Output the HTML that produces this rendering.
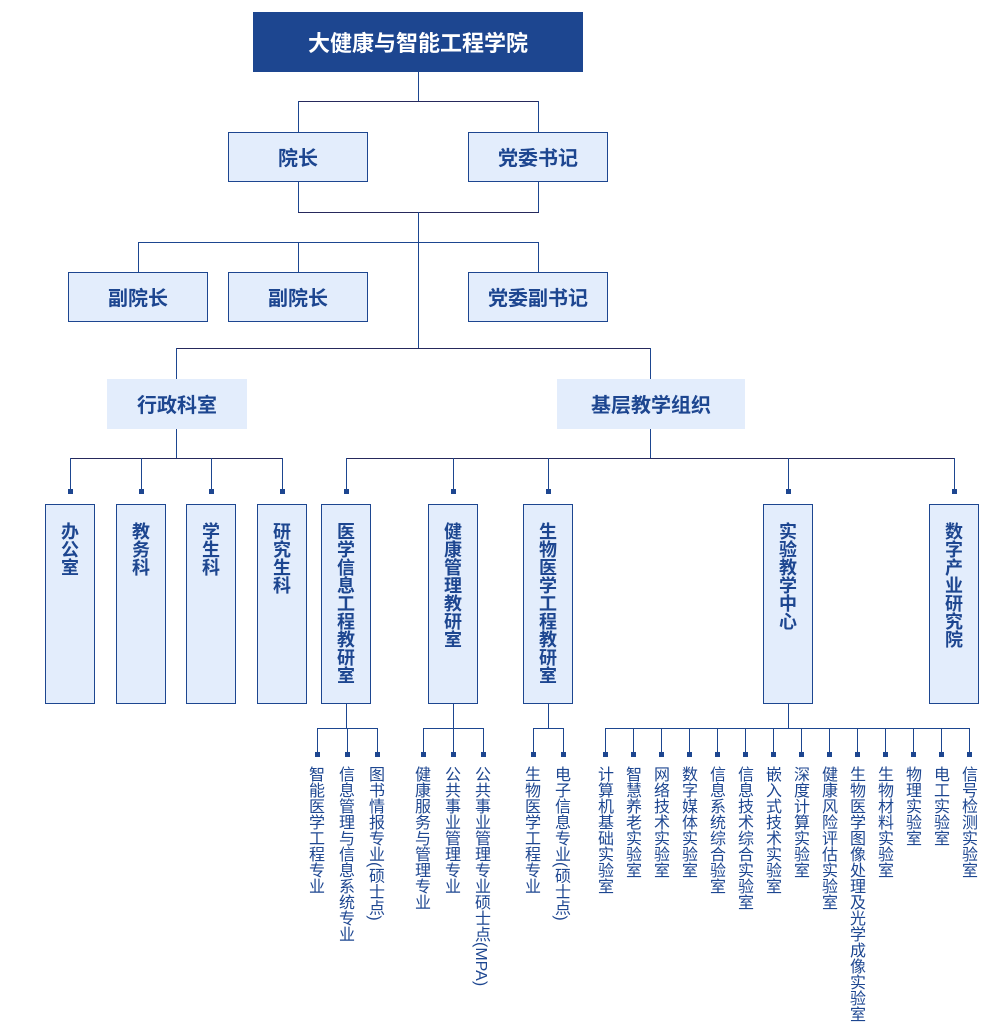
<!DOCTYPE html>
<html><head><meta charset="utf-8">
<style>
*{margin:0;padding:0;box-sizing:border-box}
html,body{width:1000px;height:1035px;background:#fff;overflow:hidden}
body{position:relative;font-family:"Liberation Sans","Noto Sans CJK SC",sans-serif}
.l{position:absolute;background:#1d4690}
.d{background:#26295c}
.sq{position:absolute;width:5px;height:5px;background:#1d4690}
.b{position:absolute;background:#e3edfc;border:1px solid #1d4690;color:#1d4690;font-weight:bold;font-size:20px;display:flex;align-items:center;justify-content:center;font-family:"Noto Sans CJK SC",sans-serif;line-height:1}
.nb{border:none}
.vb{position:absolute;background:#e3edfc;border:1px solid #1d4690;top:504px;height:200px;width:50px}
.vt{position:absolute;writing-mode:vertical-rl;text-orientation:mixed;font-family:"Noto Sans CJK SC",sans-serif;font-weight:bold;font-size:18px;line-height:18px;width:18px;color:#1d4690;top:522px}
.bt{position:absolute;writing-mode:vertical-rl;text-orientation:mixed;font-family:"Liberation Sans","Noto Sans CJK SC",sans-serif;font-size:16px;line-height:16px;width:16px;color:#1d4690;top:766px;white-space:nowrap;margin-left:-2px}
</style></head><body>

<!-- top -->
<div class="b" style="left:253px;top:12px;width:330px;height:60px;background:#1d4690;color:#fff;font-size:22px;border:none">大健康与智能工程学院</div>
<div class="l" style="left:418px;top:72px;width:1px;height:29px"></div>
<div class="l d" style="left:298px;top:101px;width:241px;height:1px"></div>
<div class="l" style="left:298px;top:101px;width:1px;height:31px"></div>
<div class="l" style="left:538px;top:101px;width:1px;height:31px"></div>

<div class="b" style="left:228px;top:132px;width:140px;height:50px">院长</div>
<div class="b" style="left:468px;top:132px;width:140px;height:50px">党委书记</div>

<div class="l" style="left:298px;top:181px;width:1px;height:31px"></div>
<div class="l" style="left:538px;top:181px;width:1px;height:31px"></div>
<div class="l d" style="left:298px;top:212px;width:241px;height:1px"></div>
<div class="l" style="left:418px;top:212px;width:1px;height:136px"></div>
<div class="l" style="left:138px;top:242px;width:401px;height:1px"></div>
<div class="l" style="left:138px;top:242px;width:1px;height:30px"></div>
<div class="l" style="left:298px;top:242px;width:1px;height:30px"></div>
<div class="l" style="left:538px;top:242px;width:1px;height:30px"></div>

<div class="b" style="left:68px;top:272px;width:140px;height:50px">副院长</div>
<div class="b" style="left:228px;top:272px;width:140px;height:50px">副院长</div>
<div class="b" style="left:468px;top:272px;width:140px;height:50px">党委副书记</div>

<div class="l d" style="left:176px;top:348px;width:475px;height:1px"></div>
<div class="l" style="left:176px;top:348px;width:1px;height:31px"></div>
<div class="l" style="left:650px;top:348px;width:1px;height:31px"></div>

<div class="b nb" style="left:107px;top:379px;width:140px;height:50px">行政科室</div>
<div class="b nb" style="left:557px;top:379px;width:188px;height:50px">基层教学组织</div>

<div class="l" style="left:176px;top:429px;width:1px;height:29px"></div>
<div class="l d" style="left:70px;top:458px;width:213px;height:1px"></div>
<div class="l" style="left:650px;top:429px;width:1px;height:29px"></div>
<div class="l d" style="left:346px;top:458px;width:609px;height:1px"></div>

<!-- ticks upper -->
<div class="l" style="left:70px;top:458px;width:1px;height:31px"></div><div class="sq" style="left:68px;top:489px"></div>
<div class="l" style="left:141px;top:458px;width:1px;height:31px"></div><div class="sq" style="left:139px;top:489px"></div>
<div class="l" style="left:211px;top:458px;width:1px;height:31px"></div><div class="sq" style="left:209px;top:489px"></div>
<div class="l" style="left:282px;top:458px;width:1px;height:31px"></div><div class="sq" style="left:280px;top:489px"></div>
<div class="l" style="left:346px;top:458px;width:1px;height:31px"></div><div class="sq" style="left:344px;top:489px"></div>
<div class="l" style="left:453px;top:458px;width:1px;height:31px"></div><div class="sq" style="left:451px;top:489px"></div>
<div class="l" style="left:548px;top:458px;width:1px;height:31px"></div><div class="sq" style="left:546px;top:489px"></div>
<div class="l" style="left:788px;top:458px;width:1px;height:31px"></div><div class="sq" style="left:786px;top:489px"></div>
<div class="l" style="left:954px;top:458px;width:1px;height:31px"></div><div class="sq" style="left:952px;top:489px"></div>

<!-- vertical boxes -->
<div class="vb" style="left:45px"></div><div class="vt" style="left:61px">办公室</div>
<div class="vb" style="left:116px"></div><div class="vt" style="left:132px">教务科</div>
<div class="vb" style="left:186px"></div><div class="vt" style="left:202px">学生科</div>
<div class="vb" style="left:257px"></div><div class="vt" style="left:273px">研究生科</div>
<div class="vb" style="left:321px"></div><div class="vt" style="left:337px">医学信息工程教研室</div>
<div class="vb" style="left:428px"></div><div class="vt" style="left:444px">健康管理教研室</div>
<div class="vb" style="left:523px"></div><div class="vt" style="left:539px">生物医学工程教研室</div>
<div class="vb" style="left:763px"></div><div class="vt" style="left:779px">实验教学中心</div>
<div class="vb" style="left:929px"></div><div class="vt" style="left:945px">数字产业研究院</div>

<!-- lower connectors -->
<div class="l" style="left:346px;top:703px;width:1px;height:25px"></div>
<div class="l" style="left:317px;top:728px;width:61px;height:1px"></div>
<div class="l" style="left:453px;top:703px;width:1px;height:25px"></div>
<div class="l" style="left:423px;top:728px;width:61px;height:1px"></div>
<div class="l" style="left:548px;top:703px;width:1px;height:25px"></div>
<div class="l" style="left:533px;top:728px;width:31px;height:1px"></div>
<div class="l" style="left:788px;top:703px;width:1px;height:25px"></div>
<div class="l" style="left:605px;top:728px;width:365px;height:1px"></div>

<div class="l" style="left:317px;top:728px;width:1px;height:24px"></div><div class="sq" style="left:315px;top:752px"></div>
<div class="l" style="left:347px;top:728px;width:1px;height:24px"></div><div class="sq" style="left:345px;top:752px"></div>
<div class="l" style="left:377px;top:728px;width:1px;height:24px"></div><div class="sq" style="left:375px;top:752px"></div>
<div class="l" style="left:423px;top:728px;width:1px;height:24px"></div><div class="sq" style="left:421px;top:752px"></div>
<div class="l" style="left:453px;top:728px;width:1px;height:24px"></div><div class="sq" style="left:451px;top:752px"></div>
<div class="l" style="left:483px;top:728px;width:1px;height:24px"></div><div class="sq" style="left:481px;top:752px"></div>
<div class="l" style="left:533px;top:728px;width:1px;height:24px"></div><div class="sq" style="left:531px;top:752px"></div>
<div class="l" style="left:563px;top:728px;width:1px;height:24px"></div><div class="sq" style="left:561px;top:752px"></div>

<div class="l" style="left:605px;top:728px;width:1px;height:24px"></div><div class="sq" style="left:603px;top:752px"></div>
<div class="l" style="left:633px;top:728px;width:1px;height:24px"></div><div class="sq" style="left:631px;top:752px"></div>
<div class="l" style="left:661px;top:728px;width:1px;height:24px"></div><div class="sq" style="left:659px;top:752px"></div>
<div class="l" style="left:689px;top:728px;width:1px;height:24px"></div><div class="sq" style="left:687px;top:752px"></div>
<div class="l" style="left:717px;top:728px;width:1px;height:24px"></div><div class="sq" style="left:715px;top:752px"></div>
<div class="l" style="left:745px;top:728px;width:1px;height:24px"></div><div class="sq" style="left:743px;top:752px"></div>
<div class="l" style="left:773px;top:728px;width:1px;height:24px"></div><div class="sq" style="left:771px;top:752px"></div>
<div class="l" style="left:801px;top:728px;width:1px;height:24px"></div><div class="sq" style="left:799px;top:752px"></div>
<div class="l" style="left:829px;top:728px;width:1px;height:24px"></div><div class="sq" style="left:827px;top:752px"></div>
<div class="l" style="left:857px;top:728px;width:1px;height:24px"></div><div class="sq" style="left:855px;top:752px"></div>
<div class="l" style="left:885px;top:728px;width:1px;height:24px"></div><div class="sq" style="left:883px;top:752px"></div>
<div class="l" style="left:913px;top:728px;width:1px;height:24px"></div><div class="sq" style="left:911px;top:752px"></div>
<div class="l" style="left:941px;top:728px;width:1px;height:24px"></div><div class="sq" style="left:939px;top:752px"></div>
<div class="l" style="left:969px;top:728px;width:1px;height:24px"></div><div class="sq" style="left:967px;top:752px"></div>

<!-- bottom labels -->
<div class="bt" style="left:308px">智能医学工程专业</div>
<div class="bt" style="left:338px">信息管理与信息系统专业</div>
<div class="bt" style="left:368px">图书情报专业(硕士点)</div>
<div class="bt" style="left:414px">健康服务与管理专业</div>
<div class="bt" style="left:444px">公共事业管理专业</div>
<div class="bt" style="left:474px">公共事业管理专业硕士点(MPA)</div>
<div class="bt" style="left:524px">生物医学工程专业</div>
<div class="bt" style="left:554px">电子信息专业(硕士点)</div>

<div class="bt" style="left:597px">计算机基础实验室</div>
<div class="bt" style="left:625px">智慧养老实验室</div>
<div class="bt" style="left:653px">网络技术实验室</div>
<div class="bt" style="left:681px">数字媒体实验室</div>
<div class="bt" style="left:709px">信息系统综合验室</div>
<div class="bt" style="left:737px">信息技术综合实验室</div>
<div class="bt" style="left:765px">嵌入式技术实验室</div>
<div class="bt" style="left:793px">深度计算实验室</div>
<div class="bt" style="left:821px">健康风险评估实验室</div>
<div class="bt" style="left:849px">生物医学图像处理及光学成像实验室</div>
<div class="bt" style="left:877px">生物材料实验室</div>
<div class="bt" style="left:905px">物理实验室</div>
<div class="bt" style="left:933px">电工实验室</div>
<div class="bt" style="left:961px">信号检测实验室</div>

</body></html>
